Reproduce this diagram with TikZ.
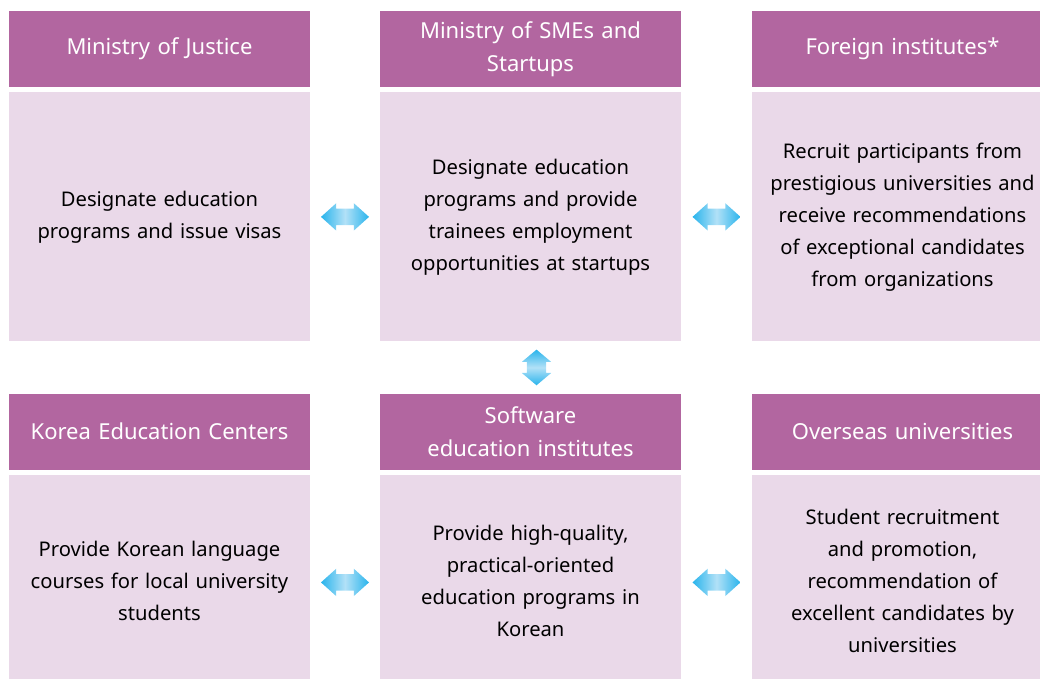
\documentclass[tikz,border=0pt]{standalone}
\usepackage{fontspec}
\setmainfont{Noto Sans}
\usetikzlibrary{positioning,shapes.arrows,calc}

\definecolor{headpurple}{HTML}{B266A0}
\definecolor{bodypink}{HTML}{EAD9E9}
\definecolor{tipblue}{HTML}{29B4EC}
\definecolor{midblue}{HTML}{B2E1F7}

\begin{document}
\begin{tikzpicture}[
    x=1pt, y=-1pt,
    node distance=5pt,
    head/.style={rectangle, fill=headpurple, text=white, minimum width=301pt, minimum height=76pt, text width=296pt, align=center, inner sep=0pt, font=\fontsize{22}{33}\selectfont},
    body/.style={rectangle, fill=bodypink, minimum width=301pt, text width=290pt, align=center, inner sep=0pt, font=\fontsize{20.2}{32}\selectfont},
    hlink/.style={double arrow, minimum height=48pt, inner sep=8pt, double arrow head extend=5.5pt, double arrow tip angle=84, left color=tipblue, right color=tipblue, middle color=midblue},
    vlink/.style={double arrow, shape border rotate=90, minimum height=34pt, inner sep=9.5pt, double arrow head extend=5pt, double arrow tip angle=100, top color=tipblue, bottom color=tipblue, middle color=midblue}
]
    \useasboundingbox (0,0) rectangle (1040,679);

    % top row
    \node[head] (justice) at (159.5,49) {Ministry of Justice};
    \node[body, minimum height=249pt, below=of justice] (justicebody) {Designate education\\programs and issue visas};
    \node[head] (smes) at (530.5,49) {Ministry of SMEs and\\Startups};
    \node[body, minimum height=249pt, below=of smes] (smesbody) {Designate education\\programs and provide\\trainees employment\\opportunities at startups};
    \node[head] (foreign) at (902.5,49) {Foreign institutes*};
    \node[body, minimum height=249pt, below=of foreign] (foreignbody) {Recruit participants from\\prestigious universities and\\receive recommendations\\of exceptional candidates\\from organizations};

    % bottom row (bodies run past the page edge)
    \node[head] (centers) at (159.5,431.5) {Korea Education Centers};
    \node[body, minimum height=213pt, below=of centers] (centersbody) {Provide Korean language\\courses for local university\\students};
    \node[head] (software) at (530.5,431.5) {Software\\education institutes};
    \node[body, minimum height=213pt, below=of software] (softwarebody) {Provide high-quality,\\practical-oriented\\education programs in\\Korean};
    \node[head] (overseas) at (902.5,431.5) {Overseas universities};
    \node[body, minimum height=213pt, below=of overseas] (overseasbody) {Student recruitment\\and promotion,\\recommendation of\\excellent candidates by\\universities};

    % links
    \node[hlink] (l1) at ($(justicebody.east)!0.5!(smesbody.west)$) {};
    \node[hlink] (l2) at ($(smesbody.east)!0.5!(foreignbody.west)$) {};
    \node[hlink] (l3) at ($(centersbody.east)!0.5!(softwarebody.west)+(0,1)$) {};
    \node[hlink] (l4) at ($(softwarebody.east)!0.5!(overseasbody.west)+(0,1)$) {};
    \node[vlink] (l5) at ($(smesbody.south)!0.5!(software.north)+(6,0)$) {};
\end{tikzpicture}
\end{document}
